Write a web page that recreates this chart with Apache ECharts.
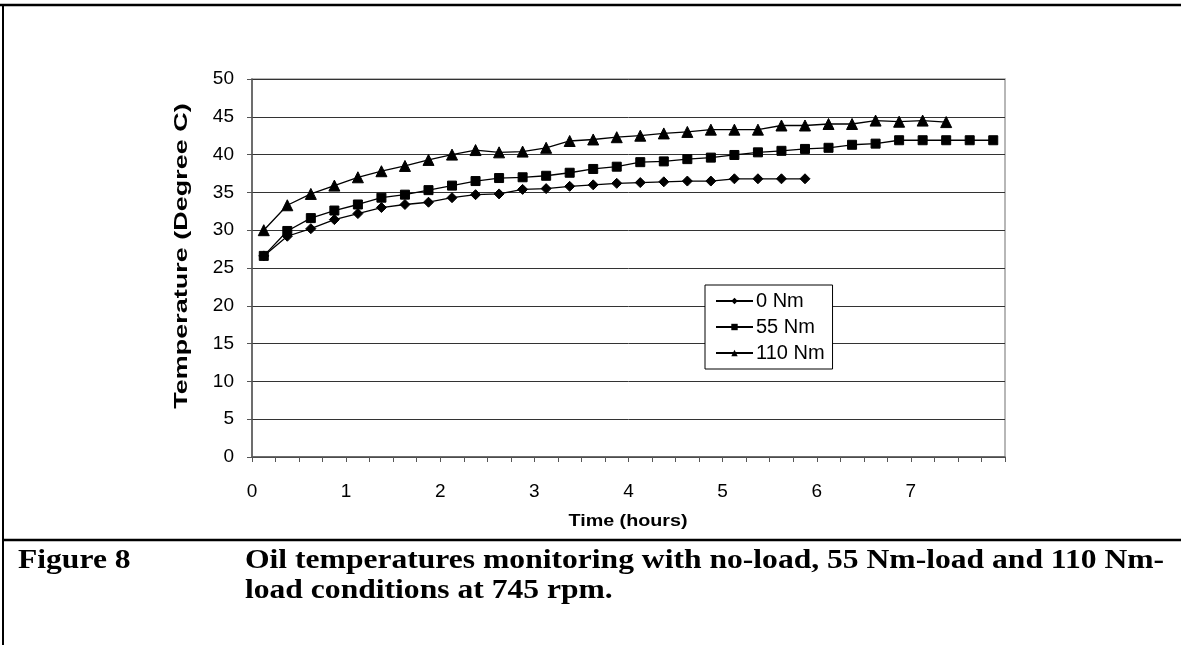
<!DOCTYPE html>
<html>
<head>
<meta charset="utf-8">
<script src="https://cdn.jsdelivr.net/npm/echarts@6/dist/echarts.min.js"></script>
<style>
html,body{margin:0;padding:0;background:#fff;}
#chart{width:1181px;height:645px;}
</style>
</head>
<body>
<div id="chart"></div>
<script>
// Time in hours of each reading
var hours = [0.125, 0.375, 0.625, 0.875, 1.125, 1.375, 1.625, 1.875,
             2.125, 2.375, 2.625, 2.875, 3.125, 3.375, 3.625, 3.875,
             4.125, 4.375, 4.625, 4.875, 5.125, 5.375, 5.625, 5.875,
             6.125, 6.375, 6.625, 6.875, 7.125, 7.375, 7.625, 7.875];
var load0 = [26.6, 29.2, 30.2, 31.4, 32.2, 33.0, 33.4, 33.7, 34.3, 34.7, 34.8, 35.4,
             35.5, 35.8, 36.0, 36.2, 36.3, 36.4, 36.5, 36.5, 36.8, 36.8, 36.8, 36.8];
var load55 = [26.6, 29.9, 31.6, 32.6, 33.4, 34.3, 34.7, 35.3, 35.9, 36.5, 36.9, 37.0,
              37.2, 37.6, 38.1, 38.4, 39.0, 39.1, 39.4, 39.6, 39.95, 40.3, 40.5, 40.75,
              40.9, 41.3, 41.45, 41.9, 41.9, 41.9, 41.9, 41.9];
var load110 = [30.0, 33.3, 34.8, 35.9, 37.0, 37.8, 38.5, 39.3, 40.0, 40.6, 40.3, 40.4,
               40.9, 41.8, 42.0, 42.3, 42.5, 42.8, 43.0, 43.3, 43.3, 43.3, 43.85, 43.85,
               44.05, 44.05, 44.5, 44.35, 44.5, 44.3];
var seriesNames = ['0 Nm', '55 Nm', '110 Nm'];
var xTickLabels = ['0', '1', '2', '3', '4', '5', '6', '7'];
var yTitle = 'Temperature (Degree C)';
var xTitle = 'Time (hours)';
var captionLabel = 'Figure 8';
var captionLine1 = 'Oil temperatures monitoring with no-load, 55 Nm-load and 110 Nm-';
var captionLine2 = 'load conditions at 745 rpm.';

function pairs(vals) {
  return vals.map(function (v, i) { return [hours[i], v]; });
}

var chart = echarts.init(document.getElementById('chart'), null, {renderer: 'canvas'});
var sans = '"Liberation Sans", Arial, sans-serif';
var serif = '"Liberation Serif", "Times New Roman", serif';

var symbols = ['diamond', 'rect', 'triangle'];
var sizes = [10, 9, 11];
var allData = [load0, load55, load110];

var option = {
  animation: false,
  backgroundColor: '#fff',
  grid: {left: 252, top: 79, width: 753, height: 378, show: true,
         borderColor: '#a0a0a0', borderWidth: 1.5, backgroundColor: 'transparent'},
  xAxis: {
    type: 'value', min: 0, max: 8, interval: 0.25,
    axisLine: {show: true, onZero: false, lineStyle: {color: '#555', width: 1.5}},
    axisTick: {show: true, length: 5, lineStyle: {color: '#555', width: 1}},
    splitLine: {show: false},
    axisLabel: {
      margin: 25, fontFamily: sans, fontSize: 19, color: '#000',
      formatter: function (v) {
        var k = Math.round(v);
        return (Math.abs(v - k) < 1e-9 && k < xTickLabels.length) ? xTickLabels[k] : '';
      }
    }
  },
  yAxis: {
    type: 'value', min: 0, max: 50, interval: 5,
    axisLine: {show: true, lineStyle: {color: '#555', width: 1.5}},
    axisTick: {show: true, length: 5, lineStyle: {color: '#555', width: 1}},
    splitLine: {show: true, lineStyle: {color: '#333', width: 1}},
    axisLabel: {margin: 18, fontFamily: sans, fontSize: 19, color: '#000'}
  },
  legend: {
    orient: 'vertical', left: 705, top: 285,
    padding: [6, 8, 6, 10], itemGap: 6, itemWidth: 37, itemHeight: 8,
    backgroundColor: '#fff', borderColor: '#000', borderWidth: 1,
    textStyle: {fontFamily: sans, fontSize: 20, lineHeight: 20, color: '#000', padding: [0, 0, 0, -2]},
    data: seriesNames
  },
  series: seriesNames.map(function (n, i) {
    return {
      name: n, type: 'line', data: pairs(allData[i]),
      symbol: symbols[i], symbolSize: sizes[i], showSymbol: true,
      lineStyle: {color: '#000', width: 1.3},
      itemStyle: {color: '#000', borderColor: '#000'},
      z: 3
    };
  }),
  graphic: [
    {type: 'line', shape: {x1: 0, y1: 5, x2: 1181, y2: 5}, style: {stroke: '#000', lineWidth: 2.5}},
    {type: 'line', shape: {x1: 3, y1: 5, x2: 3, y2: 645}, style: {stroke: '#000', lineWidth: 2}},
    {type: 'line', shape: {x1: 3, y1: 540, x2: 1181, y2: 540}, style: {stroke: '#000', lineWidth: 2.5}},
    {type: 'text', x: 182, y: 256, rotation: Math.PI / 2, scaleX: 1.5,
     style: {text: yTitle, font: 'bold 18px ' + sans, fill: '#000', align: 'center', verticalAlign: 'middle'}},
    {type: 'text', x: 628, y: 521, scaleX: 1.16,
     style: {text: xTitle, font: 'bold 17px ' + sans, fill: '#000', align: 'center', verticalAlign: 'middle'}},
    {type: 'text', x: 18, y: 561, scaleX: 1.17,
     style: {text: captionLabel, font: 'bold 27px ' + serif, fill: '#000', verticalAlign: 'middle'}},
    {type: 'text', x: 245, y: 561, scaleX: 1.17,
     style: {text: captionLine1, font: 'bold 27px ' + serif, fill: '#000', verticalAlign: 'middle'}},
    {type: 'text', x: 245, y: 591, scaleX: 1.17,
     style: {text: captionLine2, font: 'bold 27px ' + serif, fill: '#000', verticalAlign: 'middle'}}
  ]
};
chart.setOption(option);
</script>
</body>
</html>
